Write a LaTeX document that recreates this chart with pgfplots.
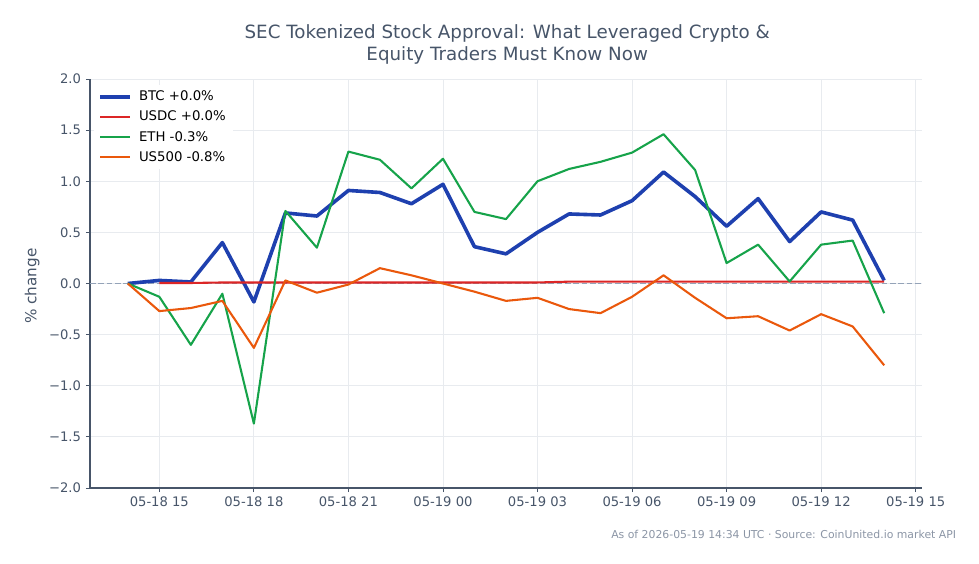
\documentclass[border=0pt]{standalone}
\usepackage{pgfplots}
\usepackage{pgfplotstable}
\pgfplotsset{compat=1.18}
\usepackage{fontspec}
\setmainfont{DejaVu Sans}

\definecolor{btc}{HTML}{1E40AF}
\definecolor{usdc}{HTML}{DC2626}
\definecolor{eth}{HTML}{16A34A}
\definecolor{spx}{HTML}{EA580C}
\definecolor{ink}{HTML}{475569}
\definecolor{gridc}{HTML}{E8EBEF}
\definecolor{zeroc}{HTML}{94A3B8}
\definecolor{foot}{HTML}{8B95A5}

% hours counted from 05-18 00:00 UTC; values are % change from the first sample
\pgfplotstableread{
t   btc    eth    spx
14  0.00   0.00   0.00
15  0.03  -0.13  -0.27
16  0.015 -0.60  -0.24
17  0.40  -0.10  -0.17
18  -0.18 -1.37  -0.63
19  0.69   0.71   0.03
20  0.66   0.35  -0.09
21  0.91   1.29  -0.01
22  0.89   1.21   0.15
23  0.78   0.93   0.08
24  0.97   1.22   0.00
25  0.36   0.70  -0.08
26  0.29   0.63  -0.17
27  0.50   1.00  -0.14
28  0.68   1.12  -0.25
29  0.67   1.19  -0.29
30  0.81   1.28  -0.13
31  1.09   1.46   0.08
32  0.85   1.11  -0.14
33  0.56   0.20  -0.34
34  0.83   0.38  -0.32
35  0.41   0.02  -0.46
36  0.70   0.38  -0.30
37  0.62   0.42  -0.42
38  0.03  -0.29  -0.80
}\prices

\pgfplotstableread{
t   usdc
15  0.005
16  0.005
17  0.01
18  0.01
19  0.01
20  0.01
21  0.01
22  0.01
23  0.01
24  0.01
25  0.01
26  0.01
27  0.01
28  0.018
29  0.018
30  0.018
31  0.018
32  0.018
33  0.018
34  0.018
35  0.018
36  0.018
37  0.018
38  0.018
}\stable

\begin{document}
\begin{tikzpicture}
\path[use as bounding box] (0bp,0bp) rectangle (704.88bp,406.08bp);

\node[align=center, text=ink, font=\fontsize{13.2}{15.4}\selectfont] at (365.2bp,374bp)
  {SEC Tokenized Stock Approval: What Leveraged Crypto \&\\Equity Traders Must Know Now};

\begin{axis}[
  at={(64.8bp,54.72bp)}, anchor=south west, scale only axis,
  width=599.04bp, height=294.48bp,
  xmin=12.8, xmax=39.2, ymin=-2, ymax=2,
  axis x line*=bottom, axis y line*=left,
  axis line style={draw=ink, line width=0.8bp, -},
  tick align=outside, major tick length=3bp,
  tick style={draw=ink, line width=0.6bp},
  xtick={15,18,21,24,27,30,33,36,39},
  xticklabels={05-18 15,05-18 18,05-18 21,05-19 00,05-19 03,05-19 06,05-19 09,05-19 12,05-19 15},
  ytick={-2,-1.5,-1,-0.5,0,0.5,1,1.5,2},
  yticklabels={−2.0,−1.5,−1.0,−0.5,0.0,0.5,1.0,1.5,2.0},
  ticklabel style={font=\fontsize{9.5}{11}\selectfont, text=ink},
  grid=major, grid style={draw=gridc, line width=0.6bp},
  ylabel={\% change},
  ylabel style={font=\fontsize{11}{13}\selectfont, text=ink, xshift=-2bp},
  legend style={at={(0.005,0.985)}, anchor=north west, draw=none, fill=white,
    font=\fontsize{9.6}{11}\selectfont, row sep=1.9bp, inner xsep=3bp},
  legend cell align=left,
  legend image code/.code={\draw[#1] (0bp,0bp) -- (21.6bp,0bp); \path (24.5bp,0bp);},
]
\addplot[zeroc, line width=0.8bp, dash pattern=on 4bp off 2bp, forget plot]
  coordinates {(12.8,0) (39.2,0)};
\addplot[btc, line width=2.6bp, line join=round] table[x=t, y=btc] {\prices};
\addlegendentry{BTC +0.0\%}
\addplot[usdc, line width=1.5bp, line join=round] table[x=t, y=usdc] {\stable};
\addlegendentry{USDC +0.0\%}
\addplot[eth, line width=1.5bp, line join=round] table[x=t, y=eth] {\prices};
\addlegendentry{ETH -0.3\%}
\addplot[spx, line width=1.5bp, line join=round] table[x=t, y=spx] {\prices};
\addlegendentry{US500 -0.8\%}
\end{axis}

\node[anchor=base east, text=foot, font=\fontsize{7.85}{9.5}\selectfont] at (691.9bp,18.7bp)
  {As of 2026-05-19 14:34 UTC · Source: CoinUnited.io market API};
\end{tikzpicture}
\end{document}
